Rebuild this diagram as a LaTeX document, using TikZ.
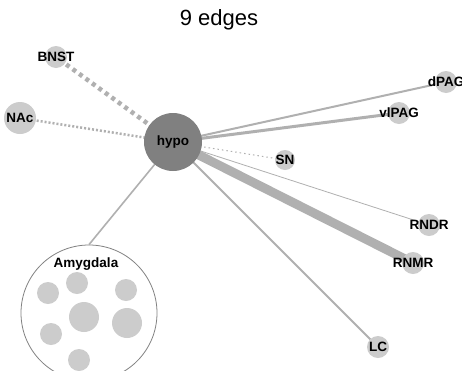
\documentclass[tikz,border=0pt]{standalone}
\usepackage{fontspec}
\setmainfont{Liberation Sans}
\begin{document}
\begin{tikzpicture}[x=1pt,y=-1pt,
  every node/.style={font=\fontsize{13.5}{13.5}\selectfont\bfseries, inner sep=0pt},
  region/.style={circle, fill=nodegray, minimum size=22pt},
  hub/.style={circle, fill=hubgray, minimum size=58pt},
  cluster/.style={circle, draw=clustergray, line width=0.8pt, fill=white, minimum size=136pt},
  sub/.style={circle, fill=nodegray, minimum size=#1},
  link/.style={draw=edgegray, line width=#1},
]
\definecolor{nodegray}{RGB}{204,204,204}
\definecolor{hubgray}{RGB}{128,128,128}
\definecolor{edgegray}{RGB}{176,176,176}
\definecolor{clustergray}{RGB}{130,130,130}
\newcommand{\lbl}[1]{\makebox[0pt]{#1}}
\useasboundingbox (0,0) rectangle (462,370);
\fill[white] (0,0) rectangle (462,370);

\node[font=\fontsize{22}{22}\selectfont] (title) at (219,20) {9 edges};

% coordinates of node centres
\coordinate (cH) at (173,142);
\coordinate (cAmy) at (89,313);

% cluster first (edges drawn over white fill)
\node[cluster] (amy) at (cAmy) {};

% edges
\draw[link=4.5pt, dash pattern=on 4pt off 4pt] (cH) -- (56,57) coordinate (cB);
\draw[link=2.5pt, dash pattern=on 2pt off 2pt] (cH) -- (20,118) coordinate (cN);
\draw[link=2pt] (cH) -- (446,82) coordinate (cD);
\draw[link=3pt] (cH) -- (399,113) coordinate (cV);
\draw[link=1pt, dash pattern=on 1.5pt off 3pt] (cH) -- (285,160) coordinate (cS);
\draw[link=0.8pt] (cH) -- (429,225) coordinate (cR1);
\draw[link=9pt] (cH) -- (413,263) coordinate (cR2);
\draw[link=1.8pt] (cH) -- (378,347) coordinate (cL);
\draw[link=1.6pt] (cH) -- (amy.north);

% nodes
\node[hub] (hypo) at (cH) {\lbl{hypo}};
\node[region] (bnst) at (cB) {\lbl{BNST}};
\node[region, minimum size=32pt] (nac) at (cN) {\lbl{NAc}};
\node[region] (dpag) at (cD) {\lbl{dPAG}};
\node[region] (vlpag) at (cV) {\lbl{vlPAG}};
\node[region, minimum size=20pt] (sn) at (cS) {\lbl{SN}};
\node[region] (rndr) at (cR1) {\lbl{RNDR}};
\node[region] (rnmr) at (cR2) {\lbl{RNMR}};
\node[region] (lc) at (cL) {\lbl{LC}};

% amygdala contents
\node (amylabel) at (86,264) {Amygdala};
\node[sub=22pt] (a1) at (48,293) {};
\node[sub=22pt] (a2) at (77,283) {};
\node[sub=22pt] (a3) at (126,290) {};
\node[sub=30pt] (a4) at (84,317) {};
\node[sub=30pt] (a5) at (127,323) {};
\node[sub=22pt] (a6) at (51,334) {};
\node[sub=22pt] (a7) at (79,360) {};
\end{tikzpicture}
\end{document}
